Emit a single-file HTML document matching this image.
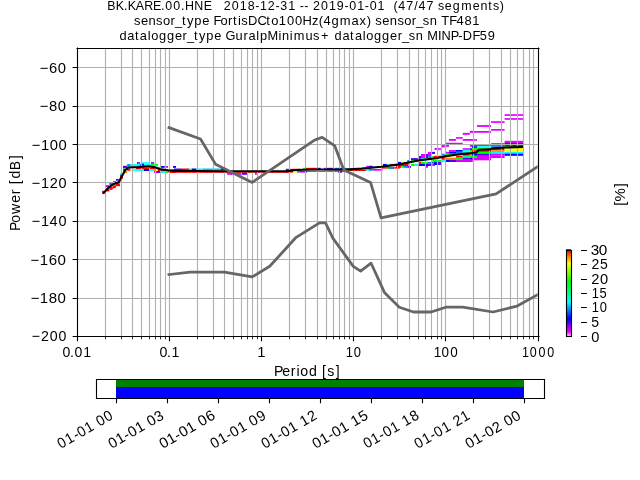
<!DOCTYPE html>
<html><head><meta charset="utf-8"><title>PPSD</title><style>html,body{margin:0;padding:0;background:#fff;width:640px;height:480px;overflow:hidden}svg{display:block;font-family:"Liberation Sans",sans-serif;fill:#000;will-change:transform}</style></head><body>
<svg width="640" height="480" viewBox="0 0 640 480">
<defs><clipPath id="ax"><rect x="76.80" y="48.00" width="460.80" height="288.00"/></clipPath>
<linearGradient id="cm" x1="0" y1="1" x2="0" y2="0"><stop offset="0" stop-color="#ffe8ff"/><stop offset="0.05" stop-color="#ff00ff"/><stop offset="0.21" stop-color="#0000ff"/><stop offset="0.4" stop-color="#00ffff"/><stop offset="0.64" stop-color="#00ff00"/><stop offset="0.85" stop-color="#ffff00"/><stop offset="0.93" stop-color="#ff8000"/><stop offset="1" stop-color="#ff0000"/></linearGradient></defs>
<g clip-path="url(#ax)">
<rect x="127.00" y="164.30" width="31.00" height="2.20" fill="#00ffff"/>
<rect x="123.00" y="166.20" width="4.00" height="1.90" fill="#5000ff"/>
<rect x="106.90" y="189.50" width="2.50" height="2.00" fill="#ff0000"/>
<rect x="109.40" y="187.60" width="3.10" height="2.20" fill="#ff0000"/>
<rect x="112.50" y="186.30" width="3.10" height="2.00" fill="#ff0000"/>
<rect x="115.60" y="184.20" width="4.40" height="2.00" fill="#ff0000"/>
<rect x="102.00" y="190.80" width="2.70" height="2.95" fill="#ff0000"/>
<rect x="105.90" y="185.00" width="2.90" height="2.00" fill="#e000ff"/>
<rect x="106.75" y="188.30" width="2.05" height="2.50" fill="#ff0000"/>
<rect x="109.70" y="187.00" width="2.90" height="1.75" fill="#ff0000"/>
<rect x="113.00" y="185.40" width="3.00" height="1.60" fill="#ff0000"/>
<rect x="116.30" y="183.30" width="3.40" height="1.70" fill="#ff0000"/>
<rect x="109.25" y="182.90" width="3.75" height="2.10" fill="#0080ff"/>
<rect x="113.00" y="181.00" width="3.00" height="1.50" fill="#0080ff"/>
<rect x="116.00" y="181.00" width="2.00" height="1.00" fill="#ffff00"/>
<rect x="116.00" y="179.00" width="2.80" height="1.80" fill="#5000ff"/>
<rect x="120.00" y="173.00" width="1.30" height="2.00" fill="#00ffff"/>
<rect x="120.00" y="175.00" width="3.00" height="3.75" fill="#ff0000"/>
<rect x="123.00" y="165.80" width="4.20" height="2.20" fill="#5000ff"/>
<rect x="123.00" y="168.00" width="3.30" height="0.75" fill="#00ff00"/>
<rect x="123.00" y="168.75" width="2.50" height="2.50" fill="#ff0000"/>
<rect x="124.70" y="171.25" width="2.50" height="1.75" fill="#ff8000"/>
<rect x="127.20" y="164.20" width="3.30" height="2.50" fill="#0080ff"/>
<rect x="130.50" y="164.20" width="7.50" height="2.05" fill="#00ffff"/>
<rect x="137.00" y="162.00" width="1.00" height="1.75" fill="#5000ff"/>
<rect x="127.20" y="168.75" width="3.30" height="2.05" fill="#ff0000"/>
<rect x="130.50" y="169.00" width="2.10" height="1.80" fill="#ffff00"/>
<rect x="133.00" y="169.20" width="5.00" height="1.60" fill="#00ffff"/>
<rect x="137.00" y="162.20" width="3.00" height="1.55" fill="#5000ff"/>
<rect x="142.00" y="162.20" width="6.80" height="1.55" fill="#00ffff"/>
<rect x="151.00" y="162.20" width="3.10" height="1.55" fill="#5000ff"/>
<rect x="136.00" y="163.75" width="4.40" height="1.85" fill="#00ffff"/>
<rect x="140.40" y="163.75" width="3.60" height="1.85" fill="#0000ff"/>
<rect x="144.00" y="163.75" width="7.00" height="1.85" fill="#00ffff"/>
<rect x="151.00" y="163.75" width="3.75" height="1.85" fill="#00ff00"/>
<rect x="156.00" y="163.75" width="1.90" height="1.85" fill="#00ff00"/>
<rect x="136.00" y="167.50" width="18.75" height="1.50" fill="#ff0000"/>
<rect x="158.00" y="167.50" width="2.00" height="1.50" fill="#ff0000"/>
<rect x="136.00" y="169.00" width="5.00" height="2.00" fill="#00ffff"/>
<rect x="142.00" y="169.00" width="2.00" height="2.00" fill="#00ffff"/>
<rect x="144.00" y="169.00" width="5.00" height="2.00" fill="#0000ff"/>
<rect x="150.00" y="169.00" width="4.00" height="2.00" fill="#00ffff"/>
<rect x="154.00" y="169.00" width="1.40" height="2.00" fill="#ff8000"/>
<rect x="156.00" y="169.00" width="2.00" height="2.00" fill="#ffff00"/>
<rect x="158.00" y="169.00" width="2.00" height="2.00" fill="#ff0000"/>
<rect x="161.00" y="166.00" width="3.75" height="1.80" fill="#0000ff"/>
<rect x="166.00" y="166.00" width="2.00" height="1.80" fill="#e000ff"/>
<rect x="173.00" y="166.00" width="3.00" height="1.80" fill="#0000ff"/>
<rect x="161.00" y="169.60" width="15.00" height="2.40" fill="#ff0000"/>
<rect x="154.00" y="171.00" width="3.00" height="2.00" fill="#e000ff"/>
<rect x="157.00" y="171.00" width="3.00" height="2.00" fill="#5000ff"/>
<rect x="161.00" y="171.00" width="4.00" height="2.00" fill="#00ffff"/>
<rect x="166.00" y="171.00" width="2.00" height="2.00" fill="#00ff00"/>
<rect x="168.50" y="171.00" width="7.50" height="2.00" fill="#ff0000"/>
<rect x="174.00" y="168.50" width="8.00" height="1.50" fill="#5000ff"/>
<rect x="182.00" y="168.50" width="7.00" height="1.50" fill="#ff0000"/>
<rect x="189.00" y="168.50" width="2.80" height="1.50" fill="#00ffff"/>
<rect x="191.80" y="168.50" width="4.70" height="1.50" fill="#0000ff"/>
<rect x="196.50" y="168.50" width="6.50" height="1.50" fill="#00ffff"/>
<rect x="203.00" y="168.50" width="17.90" height="1.50" fill="#00c0ff"/>
<rect x="220.90" y="168.50" width="3.70" height="1.50" fill="#0000ff"/>
<rect x="174.00" y="171.50" width="116.00" height="1.30" fill="#ff0000"/>
<rect x="227.00" y="173.00" width="5.60" height="1.70" fill="#e000ff"/>
<rect x="230.00" y="172.90" width="2.20" height="1.90" fill="#e000ff"/>
<rect x="237.00" y="172.90" width="4.00" height="1.90" fill="#e000ff"/>
<rect x="241.00" y="172.90" width="6.00" height="1.90" fill="#5000ff"/>
<rect x="255.00" y="172.90" width="1.80" height="1.90" fill="#e000ff"/>
<rect x="285.80" y="169.00" width="3.20" height="2.00" fill="#5000ff"/>
<rect x="289.60" y="168.80" width="10.40" height="1.50" fill="#ff0000"/>
<rect x="289.60" y="171.00" width="3.40" height="1.60" fill="#ff0000"/>
<rect x="293.00" y="171.00" width="4.00" height="1.60" fill="#ffff00"/>
<rect x="297.00" y="171.00" width="3.00" height="1.60" fill="#0080ff"/>
<rect x="286.00" y="168.80" width="2.80" height="1.50" fill="#5000ff"/>
<rect x="302.90" y="167.80" width="2.80" height="1.50" fill="#00ff00"/>
<rect x="305.70" y="167.80" width="11.30" height="1.50" fill="#ff0000"/>
<rect x="317.90" y="167.80" width="2.80" height="1.50" fill="#0000ff"/>
<rect x="324.00" y="167.80" width="2.30" height="1.50" fill="#e000ff"/>
<rect x="326.30" y="167.80" width="6.60" height="1.50" fill="#5000ff"/>
<rect x="334.70" y="167.80" width="5.70" height="1.50" fill="#0080ff"/>
<rect x="340.40" y="167.80" width="5.60" height="1.50" fill="#0000ff"/>
<rect x="300.00" y="171.00" width="4.70" height="1.60" fill="#e000ff"/>
<rect x="304.70" y="171.00" width="2.30" height="1.60" fill="#5000ff"/>
<rect x="338.00" y="171.00" width="4.20" height="1.60" fill="#5000ff"/>
<rect x="300.00" y="170.90" width="46.00" height="0.80" fill="#c00000"/>
<rect x="344.70" y="168.10" width="7.30" height="1.00" fill="#00c0c0"/>
<rect x="345.60" y="169.80" width="20.60" height="1.20" fill="#ff0000"/>
<rect x="340.00" y="171.00" width="2.00" height="1.30" fill="#5000ff"/>
<rect x="366.20" y="165.80" width="2.80" height="1.40" fill="#e000ff"/>
<rect x="369.00" y="165.80" width="3.80" height="1.40" fill="#0000ff"/>
<rect x="366.20" y="169.00" width="2.80" height="1.70" fill="#00ffff"/>
<rect x="369.00" y="169.00" width="3.80" height="1.70" fill="#0080ff"/>
<rect x="372.80" y="169.00" width="9.80" height="1.70" fill="#e000ff"/>
<rect x="383.00" y="163.90" width="3.90" height="1.90" fill="#0000ff"/>
<rect x="386.90" y="163.90" width="3.20" height="1.90" fill="#00ffff"/>
<rect x="390.10" y="163.90" width="6.10" height="1.90" fill="#ff0000"/>
<rect x="397.60" y="163.90" width="2.40" height="1.90" fill="#0000ff"/>
<rect x="381.00" y="167.20" width="19.00" height="1.40" fill="#ff0000"/>
<rect x="386.90" y="168.10" width="2.80" height="1.00" fill="#00ff00"/>
<rect x="389.70" y="168.10" width="4.20" height="1.00" fill="#0080ff"/>
<rect x="434.75" y="147.80" width="1.25" height="2.20" fill="#e000ff"/>
<rect x="427.90" y="151.90" width="3.10" height="2.10" fill="#e000ff"/>
<rect x="432.00" y="151.90" width="3.00" height="2.10" fill="#5000ff"/>
<rect x="421.00" y="154.00" width="4.00" height="2.00" fill="#e000ff"/>
<rect x="426.00" y="154.00" width="2.00" height="2.00" fill="#5000ff"/>
<rect x="428.00" y="154.00" width="3.00" height="2.00" fill="#e000ff"/>
<rect x="419.00" y="156.00" width="2.00" height="2.10" fill="#5000ff"/>
<rect x="421.00" y="156.00" width="4.00" height="2.10" fill="#e000ff"/>
<rect x="426.00" y="156.00" width="2.00" height="2.10" fill="#5000ff"/>
<rect x="428.20" y="156.00" width="2.80" height="2.10" fill="#0080ff"/>
<rect x="432.25" y="156.00" width="3.15" height="2.10" fill="#00ff00"/>
<rect x="411.00" y="158.10" width="6.90" height="1.90" fill="#5000ff"/>
<rect x="419.00" y="158.10" width="2.00" height="1.90" fill="#5000ff"/>
<rect x="421.00" y="158.10" width="4.00" height="1.90" fill="#00ffff"/>
<rect x="426.00" y="158.10" width="2.00" height="1.90" fill="#ffff00"/>
<rect x="428.00" y="158.10" width="3.00" height="1.90" fill="#ff0000"/>
<rect x="407.25" y="160.00" width="2.75" height="1.90" fill="#0080ff"/>
<rect x="411.00" y="160.00" width="3.75" height="1.90" fill="#00ff00"/>
<rect x="414.75" y="160.00" width="3.25" height="1.90" fill="#ff8000"/>
<rect x="432.25" y="160.00" width="3.15" height="1.90" fill="#00ff00"/>
<rect x="397.90" y="161.90" width="3.40" height="1.85" fill="#0000ff"/>
<rect x="401.30" y="161.90" width="2.70" height="1.85" fill="#c0ff00"/>
<rect x="404.00" y="161.90" width="4.50" height="1.85" fill="#ff0000"/>
<rect x="419.00" y="161.90" width="2.00" height="1.85" fill="#ff0000"/>
<rect x="421.00" y="161.90" width="4.00" height="1.85" fill="#00ff00"/>
<rect x="426.00" y="161.90" width="2.00" height="1.85" fill="#00ff00"/>
<rect x="428.00" y="161.90" width="3.00" height="1.85" fill="#0080ff"/>
<rect x="432.00" y="161.90" width="4.00" height="1.85" fill="#0080ff"/>
<rect x="396.00" y="163.75" width="12.50" height="2.25" fill="#ff0000"/>
<rect x="411.00" y="163.75" width="3.75" height="2.25" fill="#00ff00"/>
<rect x="414.75" y="163.75" width="3.25" height="2.25" fill="#00ffff"/>
<rect x="419.00" y="163.75" width="6.00" height="2.25" fill="#0000ff"/>
<rect x="426.00" y="163.75" width="2.00" height="2.25" fill="#0000ff"/>
<rect x="428.00" y="163.75" width="3.00" height="2.25" fill="#5000ff"/>
<rect x="432.25" y="163.75" width="2.75" height="2.25" fill="#e000ff"/>
<rect x="396.00" y="166.00" width="1.00" height="1.80" fill="#ff0000"/>
<rect x="397.90" y="166.00" width="3.40" height="1.80" fill="#ff0000"/>
<rect x="401.30" y="166.00" width="2.70" height="1.80" fill="#00ff00"/>
<rect x="404.00" y="166.00" width="3.25" height="1.80" fill="#0080ff"/>
<rect x="407.25" y="166.00" width="3.75" height="1.80" fill="#5000ff"/>
<rect x="426.00" y="166.00" width="2.00" height="1.80" fill="#e000ff"/>
<rect x="469.80" y="130.80" width="2.95" height="2.10" fill="#e000ff"/>
<rect x="462.75" y="132.90" width="7.05" height="1.90" fill="#e000ff"/>
<rect x="456.00" y="137.10" width="6.75" height="1.65" fill="#e000ff"/>
<rect x="449.00" y="139.00" width="7.00" height="1.80" fill="#e000ff"/>
<rect x="462.75" y="139.00" width="10.00" height="1.80" fill="#e000ff"/>
<rect x="446.00" y="142.75" width="16.75" height="1.55" fill="#e000ff"/>
<rect x="442.00" y="145.00" width="2.80" height="2.50" fill="#e000ff"/>
<rect x="446.00" y="145.00" width="3.00" height="1.80" fill="#e000ff"/>
<rect x="469.80" y="145.00" width="2.95" height="1.80" fill="#e000ff"/>
<rect x="434.80" y="148.20" width="2.20" height="1.60" fill="#e000ff"/>
<rect x="438.00" y="148.20" width="3.00" height="1.60" fill="#e000ff"/>
<rect x="462.75" y="148.20" width="7.05" height="1.60" fill="#e000ff"/>
<rect x="469.80" y="148.20" width="2.95" height="1.60" fill="#0000ff"/>
<rect x="449.00" y="150.00" width="7.00" height="1.80" fill="#e000ff"/>
<rect x="456.00" y="150.00" width="6.75" height="1.80" fill="#0000ff"/>
<rect x="462.75" y="150.00" width="7.05" height="1.80" fill="#00ffff"/>
<rect x="469.80" y="150.00" width="2.95" height="1.80" fill="#00ff00"/>
<rect x="446.00" y="151.80" width="3.00" height="1.95" fill="#e000ff"/>
<rect x="449.00" y="151.80" width="7.00" height="1.95" fill="#0000ff"/>
<rect x="456.00" y="151.80" width="6.75" height="1.95" fill="#0080ff"/>
<rect x="462.75" y="151.80" width="7.05" height="1.95" fill="#00ffff"/>
<rect x="442.00" y="153.75" width="2.80" height="2.05" fill="#0080ff"/>
<rect x="446.00" y="153.75" width="10.00" height="2.05" fill="#00ff00"/>
<rect x="462.75" y="153.75" width="7.05" height="2.05" fill="#ff0000"/>
<rect x="469.80" y="153.75" width="2.95" height="2.05" fill="#ff8000"/>
<rect x="434.00" y="155.80" width="3.00" height="1.90" fill="#ff0000"/>
<rect x="438.00" y="155.80" width="3.00" height="1.90" fill="#ff0000"/>
<rect x="456.00" y="155.80" width="6.75" height="1.90" fill="#ff0000"/>
<rect x="462.75" y="155.80" width="7.05" height="1.90" fill="#00ff80"/>
<rect x="469.80" y="155.80" width="2.95" height="1.90" fill="#00ff00"/>
<rect x="442.00" y="157.70" width="2.80" height="2.10" fill="#ff0000"/>
<rect x="446.00" y="157.70" width="10.00" height="2.10" fill="#ff8000"/>
<rect x="456.00" y="157.70" width="6.75" height="2.10" fill="#00ff00"/>
<rect x="462.75" y="157.70" width="7.05" height="2.10" fill="#5000ff"/>
<rect x="469.80" y="157.70" width="2.95" height="2.10" fill="#0000ff"/>
<rect x="434.00" y="159.80" width="3.00" height="2.20" fill="#00ff00"/>
<rect x="438.00" y="159.80" width="3.00" height="2.20" fill="#00ff00"/>
<rect x="442.00" y="159.80" width="2.80" height="2.20" fill="#00ffff"/>
<rect x="446.00" y="159.80" width="3.00" height="2.20" fill="#0000ff"/>
<rect x="449.00" y="159.80" width="7.00" height="2.20" fill="#5000ff"/>
<rect x="456.00" y="159.80" width="16.75" height="2.20" fill="#e000ff"/>
<rect x="434.00" y="162.00" width="3.00" height="3.00" fill="#0000ff"/>
<rect x="438.00" y="162.00" width="3.00" height="3.00" fill="#5000ff"/>
<rect x="504.60" y="114.20" width="18.60" height="1.70" fill="#e000ff"/>
<rect x="504.60" y="118.10" width="18.60" height="1.70" fill="#e000ff"/>
<rect x="491.10" y="121.20" width="13.50" height="1.70" fill="#e000ff"/>
<rect x="477.00" y="125.10" width="14.10" height="1.80" fill="#e000ff"/>
<rect x="491.10" y="129.00" width="13.50" height="1.70" fill="#e000ff"/>
<rect x="472.00" y="131.00" width="5.00" height="1.75" fill="#e000ff"/>
<rect x="477.00" y="131.00" width="14.10" height="1.75" fill="#e000ff"/>
<rect x="472.00" y="139.20" width="5.00" height="1.60" fill="#e000ff"/>
<rect x="504.60" y="140.80" width="18.60" height="2.30" fill="#e000ff"/>
<rect x="491.10" y="143.10" width="13.50" height="1.50" fill="#e000ff"/>
<rect x="504.60" y="143.10" width="18.60" height="1.50" fill="#0000ff"/>
<rect x="472.00" y="144.60" width="5.00" height="1.60" fill="#e000ff"/>
<rect x="477.00" y="144.60" width="14.10" height="1.60" fill="#0080ff"/>
<rect x="491.10" y="144.60" width="13.50" height="1.60" fill="#0080ff"/>
<rect x="504.60" y="144.60" width="18.60" height="1.60" fill="#5000ff"/>
<rect x="472.00" y="146.20" width="5.00" height="1.70" fill="#0000ff"/>
<rect x="477.00" y="146.20" width="14.10" height="1.70" fill="#00ffff"/>
<rect x="491.10" y="146.20" width="13.50" height="1.70" fill="#0080ff"/>
<rect x="504.60" y="146.20" width="18.60" height="1.70" fill="#00ff00"/>
<rect x="472.00" y="147.90" width="5.00" height="2.30" fill="#00ff00"/>
<rect x="477.00" y="147.90" width="14.10" height="2.30" fill="#00ff00"/>
<rect x="491.10" y="147.90" width="13.50" height="2.30" fill="#ff0000"/>
<rect x="504.60" y="147.90" width="18.60" height="2.30" fill="#ffff00"/>
<rect x="472.00" y="150.20" width="5.00" height="1.70" fill="#ff0000"/>
<rect x="477.00" y="150.20" width="14.10" height="1.70" fill="#ff0000"/>
<rect x="491.10" y="150.20" width="13.50" height="1.70" fill="#ff8000"/>
<rect x="504.60" y="150.20" width="18.60" height="1.70" fill="#ffff00"/>
<rect x="472.00" y="151.90" width="5.00" height="1.70" fill="#00ff00"/>
<rect x="477.00" y="151.90" width="14.10" height="1.70" fill="#00ff00"/>
<rect x="491.10" y="151.90" width="13.50" height="1.70" fill="#00ffff"/>
<rect x="504.60" y="151.90" width="18.60" height="1.70" fill="#00ffff"/>
<rect x="472.00" y="153.60" width="5.00" height="2.20" fill="#0000ff"/>
<rect x="477.00" y="153.60" width="14.10" height="2.20" fill="#5000ff"/>
<rect x="491.10" y="153.60" width="13.50" height="2.20" fill="#e000ff"/>
<rect x="504.60" y="153.60" width="18.60" height="2.20" fill="#0000ff"/>
<rect x="472.00" y="155.80" width="5.00" height="2.20" fill="#00ff00"/>
<rect x="477.00" y="155.80" width="14.10" height="2.20" fill="#e000ff"/>
<rect x="491.10" y="155.80" width="13.50" height="2.20" fill="#e000ff"/>
<rect x="472.00" y="158.00" width="5.00" height="2.30" fill="#e000ff"/>
<rect x="477.00" y="158.00" width="14.10" height="2.30" fill="#e000ff"/>
</g>
<path d="M105.5 48V336M121.5 48V336M132.5 48V336M141.5 48V336M149.5 48V336M155.5 48V336M160.5 48V336M165.5 48V336M169.5 48V336M197.5 48V336M213.5 48V336M224.5 48V336M233.5 48V336M241.5 48V336M247.5 48V336M252.5 48V336M257.5 48V336M261.5 48V336M289.5 48V336M305.5 48V336M317.5 48V336M326.5 48V336M333.5 48V336M339.5 48V336M344.5 48V336M349.5 48V336M353.5 48V336M381.5 48V336M397.5 48V336M409.5 48V336M418.5 48V336M425.5 48V336M431.5 48V336M437.5 48V336M441.5 48V336M445.5 48V336M473.5 48V336M489.5 48V336M501.5 48V336M510.5 48V336M517.5 48V336M523.5 48V336M529.5 48V336M533.5 48V336M77 67.5H538M77 106.5H538M77 144.5H538M77 182.5H538M77 221.5H538M77 259.5H538M77 298.5H538" stroke="#b0b0b0" stroke-width="1.11" fill="none"/>
<polyline clip-path="url(#ax)" fill="none" stroke="#000" stroke-width="2.08" stroke-linejoin="round" stroke-linecap="square" points="103.80,192.90 108.80,187.30 113.00,184.40 116.00,183.20 118.90,182.30 121.40,176.90 125.40,170.00 128.25,167.80 132.00,167.30 138.00,167.10 148.50,166.25 154.75,167.20 161.00,169.40 168.00,170.20 176.00,170.90 196.00,171.00 230.00,171.20 288.00,171.30 295.00,170.00 304.00,169.70 320.00,169.50 346.00,169.60 361.60,168.60 381.20,166.70 396.00,164.90 408.50,162.60 421.00,160.10 436.00,158.20 444.80,156.40 455.70,154.70 462.75,153.90 470.00,153.20 476.25,152.50 478.90,149.70 490.00,149.40 492.60,148.40 505.00,147.50 521.90,147.00"/>
<g clip-path="url(#ax)" fill="none" stroke="#666666" stroke-width="2.78" stroke-linejoin="round" stroke-linecap="square">
<polyline points="168.96,127.68 200.52,139.01 215.51,164.16 252.19,182.40 314.55,140.16 322.20,137.28 334.79,145.92 343.85,169.92 370.56,182.40 381.02,217.92 496.13,193.92 721.92,45.12"/>
<polyline points="168.96,274.56 190.20,272.06 224.45,272.06 252.19,276.86 269.73,266.30 296.16,237.31 319.50,222.91 325.54,222.91 332.83,238.08 353.28,266.40 360.58,271.20 371.08,263.23 384.66,292.80 399.33,307.20 413.48,312.00 431.16,312.00 445.84,307.20 462.72,307.20 492.98,312.00 517.15,306.05 629.76,243.61 721.92,149.18"/>
</g>
<path d="M77.5 48V336.5M538.5 48V336.5M77 48.5H539M77 336.5H539" stroke="#000" stroke-width="1.11" fill="none" stroke-linecap="square"/>
<path d="M72.64 67.5H77.5M72.64 106.5H77.5M72.64 144.5H77.5M72.64 182.5H77.5M72.64 221.5H77.5M72.64 259.5H77.5M72.64 298.5H77.5M72.64 336.5H77.5M77.5 336.5V341.36M169.5 336.5V341.36M261.5 336.5V341.36M353.5 336.5V341.36M445.5 336.5V341.36M538.5 336.5V341.36" stroke="#000" stroke-width="1.11" fill="none"/>
<path d="M105.5 336.5V339.28M121.5 336.5V339.28M132.5 336.5V339.28M141.5 336.5V339.28M149.5 336.5V339.28M155.5 336.5V339.28M160.5 336.5V339.28M165.5 336.5V339.28M197.5 336.5V339.28M213.5 336.5V339.28M224.5 336.5V339.28M233.5 336.5V339.28M241.5 336.5V339.28M247.5 336.5V339.28M252.5 336.5V339.28M257.5 336.5V339.28M289.5 336.5V339.28M305.5 336.5V339.28M317.5 336.5V339.28M326.5 336.5V339.28M333.5 336.5V339.28M339.5 336.5V339.28M344.5 336.5V339.28M349.5 336.5V339.28M381.5 336.5V339.28M397.5 336.5V339.28M409.5 336.5V339.28M418.5 336.5V339.28M425.5 336.5V339.28M431.5 336.5V339.28M437.5 336.5V339.28M441.5 336.5V339.28M473.5 336.5V339.28M489.5 336.5V339.28M501.5 336.5V339.28M510.5 336.5V339.28M517.5 336.5V339.28M523.5 336.5V339.28M529.5 336.5V339.28M533.5 336.5V339.28" stroke="#000" stroke-width="0.83" fill="none"/>
<rect x="566" y="249" width="5" height="1.2" fill="#ff0000"/>
<rect x="566.5" y="250.5" width="5" height="86" fill="url(#cm)" stroke="#000" stroke-width="1.11"/>
<path d="M581 336.5H586.9M581 322.5H586.9M581 307.5H586.9M581 293.5H586.9M581 279.5H586.9M581 264.5H586.9M581 250.5H586.9" stroke="#000" stroke-width="1.11"/>
<rect x="116" y="379.2" width="408" height="7.8" fill="#008000"/>
<rect x="116" y="387" width="408" height="11.4" fill="#0000ff"/>
<path d="M96.5 379V399M544.5 379V399M96 379.5H545M96 398.5H545" stroke="#000" stroke-width="1.11" fill="none"/>
<path d="M116.5 398.5V403.36M167.5 398.5V403.36M218.5 398.5V403.36M269.5 398.5V403.36M320.5 398.5V403.36M371.5 398.5V403.36M422.5 398.5V403.36M473.5 398.5V403.36M524.5 398.5V403.36" stroke="#000" stroke-width="1.11"/>
<text transform="translate(107.080,10.000) scale(0.9405,1)" x="0.14 9.11 18.08 22.00 30.57 39.58 48.83 57.42 61.95 70.46 78.69 82.89 92.56 102.92 111.25 115.51 119.76 124.02 132.66 141.17 149.54 157.43 162.56 170.94 178.96 184.10 192.74 200.84 204.74 209.53 214.66 218.92 227.56 236.06 244.17 252.46 257.60 266.10 273.86 279.26 287.50 295.87 300.12 304.49 309.57 318.20 326.56 331.23 339.60 347.84 351.97 359.13 367.50 376.70 388.77 397.14 405.22 410.32 417.46" y="0" font-size="13.245" xml:space="preserve" style="white-space:pre">BK.KARE.00.HNE   2018-12-31 -- 2019-01-01  (47/47 segments)</text>
<text transform="translate(134.062,24.500) scale(0.9791,1)" x="0.01 7.14 14.66 22.36 29.46 37.19 41.77 49.05 54.09 61.52 69.70 77.30 81.08 88.19 95.91 101.14 106.27 109.55 116.31 126.19 135.10 140.15 147.83 156.13 164.30 172.11 181.71 188.60 193.41 201.70 210.21 222.12 230.27 237.62 242.50 246.41 253.54 261.06 269.01 275.86 283.59 287.91 294.80 302.04 309.91 313.66 321.86 329.38 337.42 345.34" y="0" font-size="13.245" xml:space="preserve" style="white-space:pre">sensor_type FortisDCto100Hz(4gmax) sensor_sn TF481</text>
<text transform="translate(119.034,39.500) scale(0.9674,1)" x="0.42 8.55 16.46 21.34 29.66 33.22 41.25 49.52 57.92 65.58 70.23 77.58 82.69 90.22 98.50 106.17 109.95 120.32 128.76 133.89 141.94 145.66 153.44 164.82 168.52 176.57 180.65 192.81 200.60 208.81 218.46 222.80 230.93 238.84 243.98 252.04 255.60 263.63 271.90 280.04 288.21 292.61 299.58 306.65 314.60 318.58 329.70 333.43 342.81 350.69 355.41 365.35 372.96 381.23" y="0" font-size="13.245" xml:space="preserve" style="white-space:pre">datalogger_type GuralpMinimus+ datalogger_sn MINP-DF59</text>
<text transform="translate(274.135,376.000) scale(0.9614,1)" x="-0.03 8.54 17.29 23.38 27.11 36.38 45.37 49.92 55.21 64.09" y="0" font-size="14.717" xml:space="preserve" style="white-space:pre">Period [s]</text>
<text transform="translate(20.000,230.992) rotate(-90) scale(0.9526,1)" x="0.01 8.63 17.84 29.52 38.60 44.36 48.96 54.99 63.87 75.20" y="0" font-size="14.717" xml:space="preserve" style="white-space:pre">Power [dB]</text>
<text transform="translate(624.500,206.432) rotate(-90) scale(1.0200,1)" x="0.61 4.83 18.87" y="0" font-size="14.717" xml:space="preserve" style="white-space:pre">[%]</text>
<text transform="translate(61.344,357.063) scale(0.9561,1)" x="1.31 9.15 13.73 22.89" y="0" font-size="14.717" xml:space="preserve" style="white-space:pre">0.01</text>
<text transform="translate(158.595,357.063) scale(0.9641,1)" x="1.01 8.80 13.33" y="0" font-size="14.717" xml:space="preserve" style="white-space:pre">0.1</text>
<text transform="translate(257.002,356.813) scale(1.0041,1)" x="0.31" y="0" font-size="14.717" xml:space="preserve" style="white-space:pre">1</text>
<text transform="translate(344.207,357.063) scale(0.8768,1)" x="1.80 10.78" y="0" font-size="14.717" xml:space="preserve" style="white-space:pre">10</text>
<text transform="translate(432.082,357.063) scale(0.9150,1)" x="1.83 10.16 20.00" y="0" font-size="14.717" xml:space="preserve" style="white-space:pre">100</text>
<text transform="translate(520.081,357.063) scale(0.8501,1)" x="2.28 11.25 21.54 31.84" y="0" font-size="14.717" xml:space="preserve" style="white-space:pre">1000</text>
<text transform="translate(36.958,73.061) scale(1.0051,1)" x="2.74 11.87 20.70" y="0" font-size="14.717" xml:space="preserve" style="white-space:pre">−60</text>
<text transform="translate(36.958,111.063) scale(1.0051,1)" x="2.74 11.87 20.70" y="0" font-size="14.717" xml:space="preserve" style="white-space:pre">−80</text>
<text transform="translate(28.958,150.074) scale(1.0051,1)" x="2.74 11.87 20.70 29.40" y="0" font-size="14.717" xml:space="preserve" style="white-space:pre">−100</text>
<text transform="translate(28.958,188.074) scale(0.9846,1)" x="2.88 12.20 21.22 30.10" y="0" font-size="14.717" xml:space="preserve" style="white-space:pre">−120</text>
<text transform="translate(28.958,225.813) scale(0.9846,1)" x="2.88 12.20 20.96 30.10" y="0" font-size="14.717" xml:space="preserve" style="white-space:pre">−140</text>
<text transform="translate(27.958,265.076) scale(1.0256,1)" x="2.59 11.55 20.20 28.86" y="0" font-size="14.717" xml:space="preserve" style="white-space:pre">−160</text>
<text transform="translate(27.958,303.076) scale(1.0219,1)" x="2.62 11.61 20.29 28.98" y="0" font-size="14.717" xml:space="preserve" style="white-space:pre">−180</text>
<text transform="translate(28.959,341.076) scale(0.9633,1)" x="2.78 12.56 21.65 30.73" y="0" font-size="14.717" xml:space="preserve" style="white-space:pre">−200</text>
<text transform="translate(590.925,342.037) scale(0.9946,1)" x="0.35" y="0" font-size="14.717" xml:space="preserve" style="white-space:pre">0</text>
<text transform="translate(590.767,327.051) scale(0.9540,1)" x="0.54" y="0" font-size="14.717" xml:space="preserve" style="white-space:pre">5</text>
<text transform="translate(590.207,312.063) scale(0.8768,1)" x="1.80 10.78" y="0" font-size="14.717" xml:space="preserve" style="white-space:pre">10</text>
<text transform="translate(590.203,298.063) scale(0.8771,1)" x="1.80 10.49" y="0" font-size="14.717" xml:space="preserve" style="white-space:pre">15</text>
<text transform="translate(590.975,284.041) scale(0.9946,1)" x="0.35 9.15" y="0" font-size="14.717" xml:space="preserve" style="white-space:pre">20</text>
<text transform="translate(590.971,269.063) scale(0.9533,1)" x="0.54 9.46" y="0" font-size="14.717" xml:space="preserve" style="white-space:pre">25</text>
<text transform="translate(590.168,255.029) scale(1.0414,1)" x="0.63 8.31" y="0" font-size="14.717" xml:space="preserve" style="white-space:pre">30</text>
<text transform="translate(60.485,449.220) rotate(-30) scale(0.9624,1)" x="0.24 9.59 18.99 23.88 32.97 41.94 46.74 55.83" y="0" font-size="14.717" xml:space="preserve" style="white-space:pre">01-01 00</text>
<text transform="translate(111.473,449.087) rotate(-30) scale(0.9946,1)" x="0.35 9.15 17.54 22.97 31.77 40.52 45.09 53.64" y="0" font-size="14.717" xml:space="preserve" style="white-space:pre">01-01 03</text>
<text transform="translate(162.498,449.202) rotate(-30) scale(1.0200,1)" x="0.24 8.82 17.04 22.30 30.88 39.46 43.87 52.69" y="0" font-size="14.717" xml:space="preserve" style="white-space:pre">01-01 06</text>
<text transform="translate(213.523,449.176) rotate(-30) scale(0.9843,1)" x="0.40 9.29 18.00 23.26 32.15 40.96 45.35 54.50" y="0" font-size="14.717" xml:space="preserve" style="white-space:pre">01-01 09</text>
<text transform="translate(264.360,449.201) rotate(-30) scale(0.9783,1)" x="0.42 9.37 18.13 23.42 32.37 41.23 45.91 54.98" y="0" font-size="14.717" xml:space="preserve" style="white-space:pre">01-01 12</text>
<text transform="translate(315.490,449.204) rotate(-30) scale(1.0031,1)" x="0.31 9.04 17.62 22.74 31.47 40.16 44.68 53.53" y="0" font-size="14.717" xml:space="preserve" style="white-space:pre">01-01 15</text>
<text transform="translate(366.407,449.069) rotate(-30) scale(0.9689,1)" x="0.47 9.50 18.07 23.69 32.72 41.65 46.40 55.82" y="0" font-size="14.717" xml:space="preserve" style="white-space:pre">01-01 18</text>
<text transform="translate(417.485,449.200) rotate(-30) scale(0.9654,1)" x="0.23 9.55 18.40 23.79 32.85 41.80 46.58 55.64" y="0" font-size="14.717" xml:space="preserve" style="white-space:pre">01-01 21</text>
<text transform="translate(468.482,449.175) rotate(-30) scale(0.9978,1)" x="0.34 9.10 17.72 22.88 31.65 40.26 44.81 53.58" y="0" font-size="14.717" xml:space="preserve" style="white-space:pre">01-02 00</text>
</svg></body></html>
